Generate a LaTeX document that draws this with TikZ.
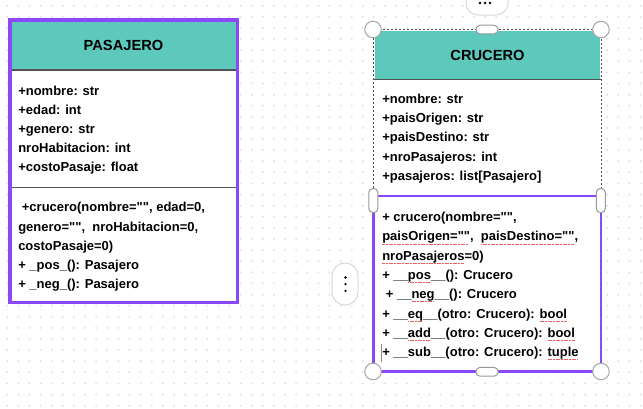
\documentclass[tikz,border=0pt]{standalone}
\usepackage{fontspec}
\setmainfont{Liberation Sans}[Ligatures=TeXOff]
\definecolor{teal1}{RGB}{93,201,189}
\definecolor{purp}{RGB}{139,72,248}
\definecolor{dotgray}{RGB}{228,228,234}
\definecolor{sqred}{RGB}{240,95,95}
\newcommand\spl[1]{\setbox0=\hbox{#1}\rlap{\raisebox{-2.4pt}{\color{sqred}\hbox to \wd0{\leaders\hbox to 1.2pt{\hss\rule{0.9pt}{0.5pt}\hss}\hfill}}}\box0}
\tikzset{
    TX/.style ={anchor=base west, inner sep=0pt, font=\fontsize{9.75pt}{11pt}\selectfont\bfseries},
    HD/.style ={inner sep=0pt, font=\fontsize{11pt}{12pt}\selectfont\bfseries},
    DV/.style ={line width=1.2pt, draw=black!68},
    SEL/.style ={line width=0.75pt, draw=black!70, dash pattern=on 1.5pt off 1.5pt},
    PL/.style ={rectangle, draw=black!15, fill=white, line width=0.75pt, inner sep=0pt},
    HC/.style ={circle, draw=black!35, fill=white, line width=0.75pt, inner sep=0pt, minimum size=12.4pt},
    HP/.style ={rectangle, rounded corners=3pt, draw=black!40, fill=white, line width=0.75pt, inner sep=0pt}}
\begin{document}
\begin{tikzpicture}[x=0.75pt,y=-0.75pt]
        \useasboundingbox (0,0) rectangle (643,408);
        \fill[white] (0,0) rectangle (643,408);
        \foreach \i in {0,...,57}{
            \foreach \j in {0,...,36}{
                \fill[dotgray] (7.3+11.11*\i,5.7+11.11*\j) circle (0.9pt);}}
        \fill[white] (10,20) rectangle (237.5,302.5);
        \fill[teal1] (10,20) rectangle (237.5,69.5);
        \draw[DV] (10,70) -- (237.5,70);
        \draw[DV] (10,187.3) -- (237.5,187.3);
        \draw[purp, line width=2.3pt] (10,20) rectangle (237.5,302.5);
        \node[HD] (pasajero) at (123.5,45.5) {PASAJERO};
        \foreach \t [count=\i] in {{+nombre: str},{+edad: int},{+genero: str},{nroHabitacion: int},{+costoPasaje: float}}{
            \node[TX] (pa\i) at (18,75.9+19.1*\i) {\t};}
        \foreach \t [count=\i] in {{\ +crucero(nombre="", edad=0,},{genero="",\ \ nroHabitacion=0,},{costoPasaje=0)},{+ \_pos\_(): Pasajero},{+ \_neg\_(): Pasajero}}{
            \node[TX] (pm\i) at (18,192.4+19.3*\i) {\t};}
        \fill[white] (373,29.5) rectangle (601,371.5);
        \fill[teal1] (374.5,31) rectangle (600,79);
        \draw[DV] (373,79.3) -- (601,79.3);
        \draw[SEL] (373,196) -- (373,29.5) -- (601,29.5) -- (601,196);
        \draw[purp, line width=1.6pt] (373.5,196) rectangle (600.8,371.5);
        \node[HD] (crucero) at (487.5,55.5) {CRUCERO};
        \foreach \t [count=\i] in {{+nombre: str},{+paisOrigen: str},{+paisDestino: str},{+nroPasajeros: int},{+pasajeros: list[Pasajero]}}{
            \node[TX] (ca\i) at (382,84+19.3*\i) {\t};}
        \foreach \t [count=\i] in {{+ crucero(nombre="",},{\spl{paisOrigen=""},\ \ \spl{paisDestino=""},},{\spl{nroPasajeros}=0)},{+ \_\_\spl{pos}\_\_(): Crucero},{\ + \_\_\spl{neg}\_\_(): Crucero},{+ \_\_\spl{eq}\_\_(otro: Crucero): \spl{bool}},{+ \_\_\spl{add}\_\_(otro: Crucero): \spl{bool}},{+ \_\_sub\_\_(otro: Crucero): \spl{tuple}}}{
            \node[TX] (cm\i) at (382,202.4+19.29*\i) {\t};}
        \draw[black!45, line width=0.6pt] (381.2,344) -- (381.2,362);
        \node[HC] (hnw) at (373,29.5) {};
        \node[HC] (hne) at (601,29.5) {};
        \node[HC] (hsw) at (373,371.5) {};
        \node[HC] (hse) at (601,371.5) {};
        \node[HP, minimum width=16.5pt, minimum height=6.4pt] (hn) at (487,29.5) {};
        \node[HP, minimum width=16.5pt, minimum height=6.6pt] (hs) at (487,371.8) {};
        \node[HP, minimum width=6.8pt, minimum height=18pt] (hw) at (373.3,200.5) {};
        \node[HP, minimum width=6.8pt, minimum height=18pt] (he) at (600.8,200.5) {};
        \node[PL, rounded corners=9pt, minimum width=31.5pt, minimum height=22.5pt] (more) at (487,0) {};
        \foreach \x in {480,485,490}{
            \fill (\x,3) circle (0.95pt);}
        \node[PL, rounded corners=9.7pt, minimum width=19.5pt, minimum height=31.5pt] (menu) at (345,284) {};
        \foreach \y in {277.5,284.2,290.9}{
            \fill (345.5,\y) circle (0.95pt);}
    \end{tikzpicture}
\end{document}
